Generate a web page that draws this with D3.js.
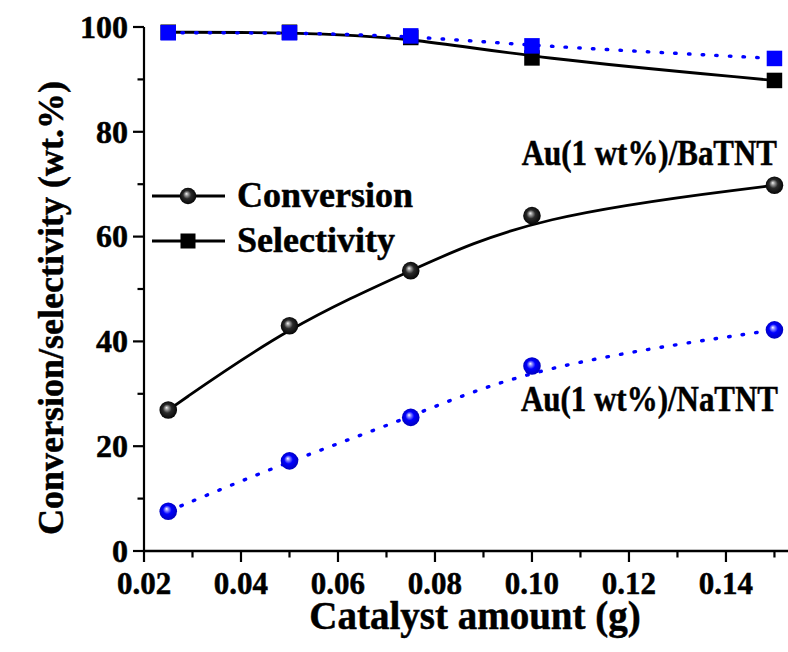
<!DOCTYPE html>
<html>
<head>
<meta charset="utf-8">
<script src="https://cdn.jsdelivr.net/npm/d3@7"></script>
<style>
  html, body { margin: 0; padding: 0; background: #fff; }
  svg { display: block; }
  text { font-family: "Liberation Serif", "Times New Roman", serif; font-weight: bold; fill: #000; stroke: #000; stroke-width: 0.5px; }
</style>
</head>
<body>
<svg id="chart" width="788" height="652"></svg>
<script>
// Catalyst amount (g) and measured values
const catalystAmount = [0.025, 0.05, 0.075, 0.10, 0.15];
const baConversion   = [26.9, 43.0, 53.5, 64.0, 69.8];
const baSelectivity  = [99.0, 99.0, 98.0, 94.1, 89.8];
const naConversion   = [7.6, 17.2, 25.5, 35.3, 42.2];
const naSelectivity  = [98.9, 98.9, 98.3, 96.4, 94.0];

const xTicks = [0.02, 0.04, 0.06, 0.08, 0.10, 0.12, 0.14];
const xMinorTicks = [0.03, 0.05, 0.07, 0.09, 0.11, 0.13, 0.15];
const yTicks = [0, 20, 40, 60, 80, 100];
const yMinorTicks = [10, 30, 50, 70, 90];

const svg = d3.select("#chart");

const x = d3.scaleLinear().domain([0.02, 0.155]).range([144, 798.7]);
const y = d3.scaleLinear().domain([0, 100]).range([551, 27]);

// gradients for the sphere markers
const defs = svg.append("defs");
function sphereGradient(id, stops) {
  const g = defs.append("radialGradient").attr("id", id)
    .attr("cx", "50%").attr("cy", "50%").attr("r", "55%")
    .attr("fx", "40%").attr("fy", "36%");
  stops.forEach(([o, c]) => g.append("stop").attr("offset", o).attr("stop-color", c));
}
sphereGradient("ballBlack", [["0%", "#f4f4f4"], ["18%", "#9a9a9a"], ["45%", "#2a2a2a"], ["100%", "#000"]]);
sphereGradient("ballBlue", [["0%", "#ffffff"], ["18%", "#8c8cff"], ["45%", "#0000ff"], ["100%", "#0000b4"]]);

// axes
const xAxis = svg.append("g").attr("transform", `translate(0,${y(0)})`);
xAxis.append("line").attr("x1", x(0.02)).attr("x2", 800).attr("stroke", "#000").attr("stroke-width", 2.5);
xAxis.selectAll(".major").data(xTicks).join("line")
  .attr("x1", d => x(d)).attr("x2", d => x(d)).attr("y1", 0).attr("y2", 11)
  .attr("stroke", "#000").attr("stroke-width", 2.2);
xAxis.selectAll(".minor").data(xMinorTicks).join("line")
  .attr("x1", d => x(d)).attr("x2", d => x(d)).attr("y1", 0).attr("y2", 6.5)
  .attr("stroke", "#000").attr("stroke-width", 2.2);
xAxis.selectAll("text").data(xTicks).join("text")
  .attr("x", d => x(d)).attr("y", 43).attr("text-anchor", "middle")
  .attr("font-size", 31).text(d => d3.format(".2f")(d));

const yAxis = svg.append("g").attr("transform", `translate(${x(0.02)},0)`);
yAxis.append("line").attr("y1", y(0)).attr("y2", y(100)).attr("stroke", "#000").attr("stroke-width", 2.2);
yAxis.selectAll(".major").data(yTicks).join("line")
  .attr("y1", d => y(d)).attr("y2", d => y(d)).attr("x1", 0).attr("x2", -11)
  .attr("stroke", "#000").attr("stroke-width", 2.2);
yAxis.selectAll(".minor").data(yMinorTicks).join("line")
  .attr("y1", d => y(d)).attr("y2", d => y(d)).attr("x1", 0).attr("x2", -6.5)
  .attr("stroke", "#000").attr("stroke-width", 2.2);
yAxis.selectAll("text").data(yTicks).join("text")
  .attr("x", -16).attr("y", d => y(d)).attr("dy", "0.34em").attr("text-anchor", "end")
  .attr("font-size", 32).text(d => d);

// axis titles
svg.append("text").attr("x", 475).attr("y", 629).attr("text-anchor", "middle")
  .attr("font-size", 39).text("Catalyst amount (g)");
svg.append("text").attr("transform", "translate(63,308) rotate(-90)").attr("text-anchor", "middle")
  .attr("font-size", 36).text("Conversion/selectivity (wt.%)");

// series lines (B-spline smoothing through the measured points)
const pts = vals => catalystAmount.map((c, i) => [c, vals[i]]);
const line = d3.line().x(d => x(d[0])).y(d => y(d[1])).curve(d3.curveBasis);

function drawLine(vals, color, dotted) {
  const p = svg.append("path").attr("d", line(pts(vals)))
    .attr("fill", "none").attr("stroke", color);
  if (dotted) {
    p.attr("stroke-width", 3.4).attr("stroke-dasharray", "1.5 12.2").attr("stroke-linecap", "round");
  } else {
    p.attr("stroke-width", 2.8);
  }
}
drawLine(baSelectivity, "#000", false);
drawLine(naSelectivity, "#0000ff", true);
drawLine(baConversion, "#000", false);
drawLine(naConversion, "#0000ff", true);

function drawSquares(vals, color) {
  svg.append("g").selectAll("rect").data(pts(vals)).join("rect")
    .attr("x", d => x(d[0]) - 7.75).attr("y", d => y(d[1]) - 7.75)
    .attr("width", 15.5).attr("height", 15.5).attr("fill", color);
}
function drawBalls(vals, grad) {
  svg.append("g").selectAll("circle").data(pts(vals)).join("circle")
    .attr("cx", d => x(d[0])).attr("cy", d => y(d[1])).attr("r", 8.8)
    .attr("fill", `url(#${grad})`);
}
drawSquares(baSelectivity, "#000");
drawSquares(naSelectivity, "#0000ff");
drawBalls(baConversion, "ballBlack");
drawBalls(naConversion, "ballBlue");

// legend
const legend = svg.append("g");
const legendRows = [{ label: "Conversion", y: 196, mark: "ball" }, { label: "Selectivity", y: 241, mark: "square" }];
legendRows.forEach(r => {
  legend.append("line").attr("x1", 152).attr("x2", 225).attr("y1", r.y).attr("y2", r.y)
    .attr("stroke", "#000").attr("stroke-width", 2.8);
  if (r.mark === "ball") {
    legend.append("circle").attr("cx", 188).attr("cy", r.y).attr("r", 8.3).attr("fill", "url(#ballBlack)");
  } else {
    legend.append("rect").attr("x", 188 - 7.5).attr("y", r.y - 7.5).attr("width", 15).attr("height", 15).attr("fill", "#000");
  }
  legend.append("text").attr("x", 237).attr("y", r.y + 11).attr("font-size", 36).text(r.label);
});

// catalyst annotations
svg.append("text").attr("transform", "translate(777,165) scale(0.86,1)").attr("text-anchor", "end")
  .attr("font-size", 36).text("Au(1 wt%)/BaTNT");
svg.append("text").attr("transform", "translate(778,411) scale(0.86,1)").attr("text-anchor", "end")
  .attr("font-size", 36).text("Au(1 wt%)/NaTNT");
</script>
</body>
</html>
